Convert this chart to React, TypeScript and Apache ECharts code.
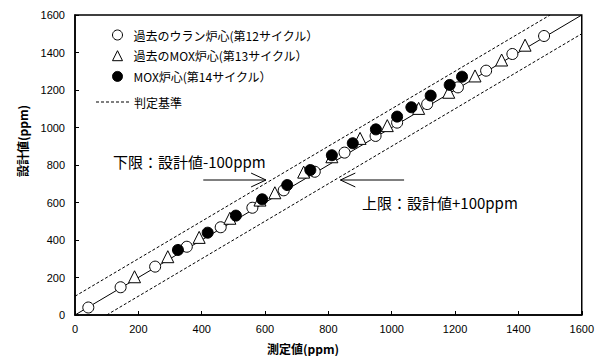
import React, { useEffect, useRef } from "react";
import * as echarts from "echarts";

const xTicks = [0, 200, 400, 600, 800, 1000, 1200, 1400, 1600];
const seriesNames = [
  "過去のウラン炉心(第12サイクル）",
  "過去のMOX炉心(第13サイクル）",
  "MOX炉心(第14サイクル）",
  "判定基準",
];
const uraniumCycle12 = [
  [42, 40], [144, 148], [253, 258], [353, 364], [460, 468], [560, 572],
  [659, 665], [757, 764], [851, 866], [949, 955], [1017, 1026], [1112, 1125],
  [1209, 1214], [1298, 1303], [1381, 1392], [1481, 1488],
];
const moxCycle13 = [
  [188, 204], [293, 311], [392, 414], [489, 516], [584, 613], [631, 652],
  [722, 762], [811, 844], [900, 942], [986, 1010], [1085, 1102], [1180, 1188],
  [1263, 1275], [1347, 1360], [1421, 1439],
];
const moxCycle14 = [
  [325, 347], [419, 439], [508, 530], [591, 617], [670, 693], [743, 773],
  [811, 852], [877, 916], [950, 990], [1017, 1058], [1062, 1108], [1123, 1170],
  [1183, 1227], [1222, 1271],
];
const identityLine = [[0, 0], [1600, 1600]];
const upperLimit = [[0, 100], [1500, 1600]];
const lowerLimit = [[100, 0], [1600, 1500]];
const arrowLowerShaft = [[405, 720], [603, 720]];
const arrowLowerHead = [[556, 757], [603, 720], [556, 683]];
const arrowUpperShaft = [[1039, 720], [838, 720]];
const arrowUpperHead = [[885, 757], [838, 720], [885, 683]];
const labelLower = "下限：設計値-100ppm";
const labelUpper = "上限：設計値+100ppm";
const xTitle = "測定値(ppm)";
const yTitle = "設計値(ppm)";

const CJK = '"Noto Sans CJK JP", sans-serif';

// dashed legend icon: dashes across a 33 x 1 box
let dashPath = "path://";
for (let i = 0; i < 7; i++) dashPath += `M${i * 5},0h3v1h-3z`;

export default function App() {
  const ref = useRef<HTMLDivElement>(null);
  useEffect(() => {
    const chart = echarts.init(ref.current!, null, { renderer: "svg" });
    const plainLine = (data: number[][], dashed = false, name?: string) => ({
      type: "line",
      name,
      data,
      symbol: "none",
      silent: true,
      itemStyle: { color: "#000" },
      lineStyle: { color: "#000", width: 1, type: dashed ? [3, 2] : "solid" },
      z: 1,
    });
    chart.setOption({
      animation: false,
      grid: {
        left: 75, right: 12, top: 15, bottom: 41,
        show: true, borderColor: "#000", borderWidth: 1.5,
      },
      legend: [
        {
          orient: "vertical",
          left: 107,
          top: 24,
          itemWidth: 10,
          itemHeight: 10,
          itemGap: 8.7,
          itemStyle: { borderWidth: 1 },
          data: seriesNames.slice(0, 3),
          textStyle: {
            fontFamily: CJK, fontSize: 12, color: "#000", padding: [0, 0, 0, 6],
          },
        },
        {
          orient: "vertical",
          left: 91,
          top: 91,
          itemWidth: 33,
          itemHeight: 1.2,
          data: [{ name: seriesNames[3], icon: dashPath, itemStyle: { color: "#000" } }],
          textStyle: { fontFamily: CJK, fontSize: 12, color: "#000" },
        },
      ],
      xAxis: {
        type: "value",
        min: 0, max: 1600, interval: 200,
        axisLine: { lineStyle: { color: "#000", width: 1.5 } },
        axisTick: { inside: true, length: 4, lineStyle: { color: "#000" } },
        splitLine: { show: false },
        axisLabel: {
          color: "#000", fontFamily: "Liberation Sans, Arial", fontSize: 11, margin: 8,
          formatter: (v: number) => String(v),
        },
      },
      yAxis: {
        type: "value",
        min: 0, max: 1600, interval: 200,
        axisLine: { show: true, lineStyle: { color: "#000", width: 1.5 } },
        axisTick: { show: true, inside: true, length: 4, lineStyle: { color: "#000" } },
        splitLine: { show: false },
        axisLabel: {
          color: "#000", fontFamily: "Liberation Sans, Arial", fontSize: 11, margin: 10,
          formatter: (v: number) => String(v),
        },
      },
      series: [
        plainLine(identityLine),
        plainLine(upperLimit, true, seriesNames[3]),
        plainLine(lowerLimit, true),
        {
          type: "scatter", name: seriesNames[0], data: uraniumCycle12,
          symbol: "circle", symbolSize: 11,
          itemStyle: { color: "#fff", borderColor: "#000", borderWidth: 1, opacity: 1 }, z: 3,
        },
        {
          type: "scatter", name: seriesNames[1], data: moxCycle13,
          symbol: "triangle", symbolSize: 12,
          itemStyle: { color: "#fff", borderColor: "#000", borderWidth: 1, opacity: 1 }, z: 3,
        },
        {
          type: "scatter", name: seriesNames[2], data: moxCycle14,
          symbol: "circle", symbolSize: 11,
          itemStyle: { color: "#000", borderColor: "#000", borderWidth: 1, opacity: 1 }, z: 4,
        },
        plainLine(arrowLowerShaft),
        plainLine(arrowLowerHead),
        plainLine(arrowUpperShaft),
        plainLine(arrowUpperHead),
      ],
      graphic: [
        {
          type: "text", left: 113, top: 154,
          style: { text: labelLower, font: `15px ${CJK}`, fill: "#000" },
        },
        {
          type: "text", left: 362, top: 195,
          style: { text: labelUpper, font: `15px ${CJK}`, fill: "#000" },
        },
        {
          type: "text", x: 303, y: 348,
          style: {
            text: xTitle, font: `bold 12px ${CJK}`, fill: "#000",
            align: "center", verticalAlign: "middle",
          },
        },
        {
          type: "text", x: 22, y: 141, rotation: Math.PI / 2,
          style: {
            text: yTitle, font: `bold 12px ${CJK}`, fill: "#000",
            align: "center", verticalAlign: "middle",
          },
        },
      ],
    });
    return () => chart.dispose();
  }, []);
  return <div ref={ref} style={{ width: 597, height: 356, position: "absolute", left: 0, top: 0 }} />;
}
